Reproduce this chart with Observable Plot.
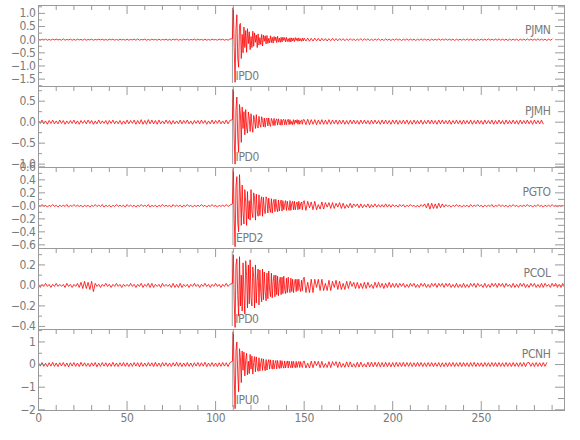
<!DOCTYPE html>
<html><head><meta charset="utf-8">
<script src="https://cdn.jsdelivr.net/npm/d3@7"></script>
<script src="https://cdn.jsdelivr.net/npm/@observablehq/plot@0.6"></script>
<style>
body{margin:0;background:#fff}
#chart svg{display:block;overflow:visible;background:transparent}
</style></head><body><div id="chart"></div>
<script>
const stations = ["PJMN","PJMH","PGTO","PCOL","PCNH"];
const phases = ["IPD0","IPD0","EPD2","IPD0","IPU0"];
const pickTimes = [109.5,109.6,109.8,109.4,109.7];
const noiseStep = 1, codaStart = 109.5, codaStep = 0.5, tailStart = 150;
const xDomain = [0,297];
const xTicks = [0,50,100,150,200,250];
const xMinorTicks = [10,20,30,40,60,70,80,90,110,120,130,140,160,170,180,190,210,220,230,240,260,270,280,290];
const yDomains = [[-1.78,1.3],[-1.08,0.85],[-0.656,0.59],[-0.43,0.36],[-2.03,1.55]];
const yMajorTicks = [[1,0.5,0,-0.5,-1,-1.5],[0.5,0,-0.5,-1],[0.6,0.4,0.2,0,-0.2,-0.4,-0.6],[0.2,0,-0.2,-0.4],[1,0,-1,-2]];
const yTickLabels = [["1.0","0.5","0.0","−0.5","−1.0","−1.5"],["0.5","0.0","−0.5","−1.0"],["0.6","0.4","0.2","−0.0","−0.2","−0.4","−0.6"],["0.2","0.0","−0.2","−0.4"],["1","0","−1","−2"]];
const yMinorTicks = [[1.25,0.75,0.25,-0.25,-0.75,-1.25,-1.75],[0.75,0.25,-0.25,-0.75],[0.5,0.3,0.1,-0.1,-0.3,-0.5],[0.3,0.1,-0.1,-0.3],[1.5,0.5,-0.5,-1.5]];

// PJMN
const prePJMN = [
.01,-.02,.02,-.01,.02,-.02,.01,-.02,.02,-.01,.02,-.01,.01,-.02,.03,-.02,.01,-.01,.02,-.02,
.01,-.02,.02,-.01,.01,-.02,.02,-.02,.01,-.01,.02,-.02,.01,-.01,.02,-.01,.02,-.02,.01,-.02,
.02,-.01,.02,-.02,.01,-.02,.02,-.01,.01,-.02,.02,-.02,.01,-.01,.02,-.02,.03,-.02,.01,-.01,
.02,-.02,.01,-.02,.02,-.01,.01,-.02,.02,-.02,.01,-.01,.02,-.02,.01,-.02,.02,-.01,.02,-.02,
.01,-.02,.02,-.01,.02,-.02,.01,-.01,.02,-.02,.02,-.01,.01,-.02,.02,-.02,.01,-.02,.02,-.01,
.01,-.02,.02,-.01,.02,-.02,.01,-.02,.02];
const codaPJMN = [
.04,1.22,-.3,-1.62,.4,.95,-.7,-1.05,.55,.62,-.72,.2,-.5,.48,-.3,.35,-.48,.42,-.15,.3,
-.38,.12,-.3,.32,-.25,.26,-.1,.18,-.3,.22,-.2,.08,-.18,.2,-.24,.17,-.06,.15,-.16,.16,
-.14,.05,-.12,.15,-.11,.09,-.13,.12,-.04,.1,-.11,.13,-.09,.06,-.1,.09,-.09,.1,-.03,.08,
-.08,.09,-.07,.04,-.08,.07,-.09,.07,-.05,.06,-.07,.08,-.03,.06,-.06,.07,-.05,.04,-.06,.06,-.05];
const tailPJMN = [
.06,-.05,.06,-.06,.05,-.05,.06,-.04,.05,-.05,.05,-.04,.04,-.05,.04,-.04,.05,-.04,.04,-.04,
.04,-.03,.04,-.04,.03,-.03,.04,-.03,.03,-.04,.03,-.03,.04,-.03,.03,-.02,.03,-.03,.02,-.03,
.03,-.02,.03,-.03,.02,-.03,.03,-.02,.02,-.03,.02,-.02,.03,-.02,.02,-.03,.02,-.02,.03,-.02,
.02,-.02,.02,-.03,.02,-.02,.03,-.02,.02,-.02,.02,-.03,.02,-.02,.02,-.02,.03,-.02,.02,-.02,
.03,-.02,.02,-.02,.02,-.03,.02,-.02,.02,-.02,.02,-.02,.03,-.02,.02,-.02,.02,-.03,.02,-.02,
.02,-.02,.02,-.02,.03,-.02,.02,-.02,.02,-.02,.03,-.02,.02,-.02,.02,-.03,.02,-.02,.02,-.02,
.02,-.03,.02,-.02,.02,-.02,.03,-.02,.02,-.02,.02,-.02,.03,-.02,.02,-.02,.02,-.03,.02,-.02,.02];

// PJMH
const prePJMH = [
.04,-.03,.05,-.04,.03,-.05,.04,-.03,.05,-.04,.03,-.04,.05,-.03,.04,-.05,.03,-.04,.04,-.03,
.05,-.04,.03,-.05,.04,-.03,.04,-.04,.05,-.03,.04,-.05,.03,-.04,.05,-.04,.03,-.03,.04,-.05,
.04,-.03,.05,-.04,.03,-.04,.04,-.05,.03,-.04,.05,-.04,.04,-.03,.05,-.05,.04,-.04,.06,-.05,
.04,-.05,.06,-.04,.05,-.04,.04,-.05,.05,-.04,.03,-.04,.05,-.03,.04,-.05,.04,-.04,.03,-.04,
.05,-.04,.04,-.03,.05,-.04,.03,-.05,.04,-.03,.04,-.04,.05,-.03,.04,-.05,.03,-.04,.05,-.04,
.04,-.03,.05,-.04,.03,-.04,.05,-.04,.04];
const codaPJMH = [
.06,.78,-.4,-1.0,.3,.6,-.35,-.72,.42,.2,-.48,.36,-.15,.25,-.3,.3,-.12,-.26,.24,.1,
-.22,.2,-.08,-.24,.16,.06,-.15,.18,-.1,-.14,.14,-.05,-.12,.13,.04,-.11,.1,-.12,.06,.1,
-.09,.1,-.05,-.1,.09,.03,-.08,.09,-.08,.04,.08,-.07,.08,-.03,-.07,.07,-.07,.05,.07,-.06,
.06,-.06,.03,.07,-.06,.06,-.05,.02,-.06,.06,-.05,.05,-.02,.06,-.05,.05,-.05,.03,.05,-.05,.06];
const tailPJMH = [
.06,-.06,.07,-.06,.06,-.05,.06,-.06,.05,-.05,.06,-.05,.05,-.05,.06,-.05,.05,-.04,.05,-.05,
.05,-.04,.05,-.05,.04,-.05,.05,-.04,.05,-.04,.04,-.05,.05,-.04,.05,-.04,.04,-.05,.05,-.04,
.05,-.04,.04,-.05,.05,-.04,.05,-.04,.04,-.05,.05,-.04,.05,-.05,.04,-.04,.05,-.04,.05,-.05,
.04,-.05,.05,-.04,.04,-.04,.05,-.05,.04,-.04,.05,-.04,.05,-.04,.04,-.05,.05,-.04,.05,-.04,
.04,-.04,.05,-.05,.04,-.04,.05,-.04,.04,-.05,.05,-.04,.04,-.04,.05,-.05,.04,-.04,.05,-.04,
.04,-.05,.05,-.04,.04,-.04,.05,-.05,.04,-.04,.05,-.04,.04,-.05,.05,-.04,.04,-.04,.05,-.04,
.04,-.05,.05,-.04,.04,-.04,.05,-.04,.04,-.05,.05,-.04,.04,-.04,.05,-.04];

// PGTO
const prePGTO = [
.01,-.01,.02,-.01,.01,-.02,.01,-.01,.02,-.01,.01,-.02,.01,-.01,.01,-.01,.02,-.02,.01,-.01,
.02,-.01,.01,-.01,.01,-.02,.01,-.01,.01,-.02,.01,-.01,.02,-.01,.01,-.01,.02,-.02,.01,-.01,
.01,-.02,.01,-.01,.02,-.01,.01,-.01,.01,-.02,.02,-.01,.01,-.01,.01,-.02,.01,-.01,.02,-.01,
.01,-.01,.02,-.02,.01,-.01,.01,-.02,.01,-.01,.02,-.01,.01,-.01,.01,-.02,.02,-.01,.01,-.01,
.01,-.02,.01,-.01,.02,-.01,.01,-.02,.01,-.01,.01,-.01,.02,-.01,.01,-.02,.01,-.01,.02,-.01,
.01,-.02,.01,-.01,.01,-.01,.02,-.01,.01];
const codaPGTO = [
.03,.58,-.2,-.63,.3,.45,-.25,-.4,.48,.15,-.3,.32,-.1,-.28,.25,.05,-.3,.22,-.2,.08,
-.22,.25,-.1,-.18,.2,.12,-.22,.18,-.08,-.16,.17,-.15,.06,.14,-.16,.13,-.05,-.12,.14,.1,
-.11,.12,-.04,-.1,.11,-.11,.05,.1,-.09,.1,-.03,-.09,.09,-.08,.04,.09,-.08,.08,-.06,.03,
.08,-.07,.07,-.03,-.07,.08,-.07,.04,.07,-.06,.07,-.06,.02,.06,-.06,.07,-.05,.03,.06,-.06,.06];
const tailPGTO = [
.08,-.07,.07,-.03,.06,-.06,.07,-.06,.02,-.05,.06,-.05,.05,-.02,.05,-.04,.05,-.04,.04,-.02,
.05,-.04,.04,-.04,.02,-.03,.04,-.03,.03,-.01,.03,-.03,.03,-.03,.02,-.02,.03,-.03,.02,-.02,
.03,-.02,.02,-.02,.02,-.02,.03,-.02,.02,-.02,.02,-.01,.01,-.02,.02,-.01,.02,-.02,.01,-.01,
.02,-.01,.01,-.02,.01,-.02,.02,-.01,.03,-.03,.04,-.05,.04,-.04,.03,-.04,.04,-.03,.03,-.02,
.02,-.01,.01,-.02,.01,-.01,.02,-.01,.01,-.02,.01,-.01,.01,-.02,.02,-.01,.01,-.01,.02,-.01,
.01,-.02,.01,-.01,.01,-.01,.02,-.02,.01,-.01,.02,-.01,.01,-.01,.01,-.02,.01,-.01,.02,-.01,
.01,-.02,.01,-.01,.01,-.01,.02,-.01,.01,-.02,.01,-.01,.02,-.01,.01,-.02,.01,-.01,.01,-.01,
.02,-.01,.01,-.02,.01,-.01,.01];

// PCOL
const prePCOL = [
.01,-.02,.01,-.01,.02,-.01,.01,-.02,.01,-.01,.02,-.01,.01,-.01,.01,-.02,.02,-.01,.01,-.02,
.01,-.01,.02,-.02,.03,-.03,.04,-.03,.03,-.04,.04,-.06,.02,-.01,.01,-.02,.01,-.01,.02,-.01,
.01,-.02,.01,-.01,.02,-.01,.01,-.02,.01,-.01,.01,-.01,.02,-.01,.01,-.02,.01,-.01,.02,-.02,
.01,-.01,.02,-.02,.02,-.02,.01,-.01,.01,-.02,.02,-.01,.01,-.01,.01,-.02,.02,-.02,.01,-.02,
.02,-.02,.01,-.01,.01,-.02,.01,-.01,.02,-.01,.01,-.02,.01,-.01,.02,-.01,.01,-.02,.01,-.01,
.02,-.01,.01,-.02,.01,-.01,.02,-.01,.01];
const codaPCOL = [
.02,.3,-.15,-.41,.2,.26,-.1,-.3,.28,-.2,.1,-.25,.22,-.08,-.28,.24,.1,-.22,.2,-.18,
.25,-.12,-.2,.18,.08,-.22,.2,-.17,.05,.16,-.19,.15,-.07,-.16,.16,-.14,.13,-.06,-.15,.12,
-.13,.14,-.05,-.11,.12,-.12,.04,.1,-.11,.1,-.09,.09,-.1,.03,.08,-.09,.08,-.08,.09,-.04,
-.08,.07,-.07,.08,-.03,-.07,.07,-.06,.06,-.07,.02,.06,-.06,.06,-.05,.06,-.02,-.06,.05,-.05,.06];
const tailPCOL = [
.08,-.07,.03,-.07,.06,-.07,.06,-.02,.06,-.05,.06,-.05,.02,-.05,.05,-.05,.04,-.02,.05,-.04,
.04,-.04,.02,-.04,.04,-.03,.04,-.01,.03,-.03,.03,-.03,.02,-.03,.03,-.03,.03,-.02,.01,-.03,
.03,-.02,.03,-.02,.02,-.03,.02,-.02,.03,-.02,.02,-.02,.02,-.02,.02,-.01,.02,-.02,.01,-.02,
.02,-.01,.02,-.02,.01,-.02,.02,-.01,.02,-.02,.01,-.02,.02,-.01,.02,-.02,.02,-.01,.02,-.02,
.02,-.01,.02,-.02,.01,-.02,.02,-.02,.01,-.02,.02,-.02,.01,-.02,.02,-.01,.02,-.02,.02,-.01,
.01,-.02,.02,-.02,.01,-.02,.02,-.01,.02,-.02,.02,-.01,.02,-.02,.02,-.01,.01,-.02,.02,-.02,
.01,-.02,.02,-.01,.02,-.02,.01,-.02,.02,-.01,.02,-.02,.01,-.02,.02,-.02,.02,-.01,.01,-.02,
.02,-.01,.02,-.02,.01,-.02,.02,-.02];

// PCNH
const prePCNH = [
.08,-.07,.09,-.08,.06,-.09,.08,-.07,.1,-.08,.07,-.09,.08,-.06,.09,-.08,.07,-.1,.08,-.07,
.09,-.08,.07,-.09,.1,-.07,.08,-.08,.06,-.09,.08,-.07,.09,-.1,.07,-.08,.09,-.07,.08,-.09,
.07,-.08,.1,-.08,.07,-.09,.08,-.07,.09,-.08,.08,-.09,.07,-.08,.09,-.07,.08,-.1,.09,-.08,
.07,-.08,.09,-.07,.08,-.09,.1,-.08,.07,-.09,.09,-.07,.08,-.08,.07,-.09,.08,-.07,.1,-.08,
.08,-.09,.07,-.08,.09,-.08,.07,-.09,.08,-.07,.09,-.08,.08,-.07,.1,-.09,.07,-.08,.09,-.08,
.07,-.09,.08,-.08,.09,-.07,.08,-.09,.08];
const codaPCNH = [
.15,1.45,-.5,-1.95,.6,1.0,-.4,-1.2,.7,.3,-.8,.6,-.25,.55,-.5,.2,.5,-.45,.15,-.4,
.45,-.2,.38,-.42,.1,.35,-.32,.34,-.12,-.3,.3,-.28,.08,.27,-.26,.25,-.1,-.27,.22,-.24,
.07,.22,-.2,.21,-.08,-.2,.2,-.19,.05,.18,-.19,.18,-.06,-.17,.18,-.16,.17,-.05,-.16,.16,
-.15,.06,.16,-.15,.15,-.05,-.14,.15,-.14,.14,-.04,-.14,.14,-.13,.05,.14,-.13,.13,-.04,-.13,.13];
const tailPCNH = [
.16,-.15,.06,-.15,.15,-.14,.15,-.05,.14,-.14,.14,-.13,.05,-.13,.13,-.13,.13,-.04,.13,-.13,
.12,-.12,.05,-.12,.12,-.11,.12,-.11,.04,-.12,.1,-.11,.11,-.1,.04,-.11,.1,-.1,.11,-.1,
.1,-.09,.1,-.1,.09,-.1,.1,-.09,.09,-.1,.09,-.1,.1,-.09,.09,-.09,.1,-.09,.09,-.08,
.09,-.09,.08,-.09,.1,-.08,.09,-.09,.08,-.09,.09,-.08,.09,-.09,.08,-.08,.09,-.1,.08,-.09,
.08,-.09,.09,-.08,.09,-.09,.08,-.08,.09,-.09,.09,-.08,.08,-.09,.09,-.08,.1,-.09,.08,-.08,
.08,-.09,.09,-.08,.08,-.09,.09,-.08,.09,-.09,.09,-.08,.08,-.09,.09,-.08,.08,-.09,.09,-.08,
.08,-.09,.09,-.08,.09,-.09,.08,.09,-.08,.08,-.09,.09,-.08,.08,-.09,.09,-.08,.08];

const traces = [
  [prePJMN, codaPJMN, tailPJMN],
  [prePJMH, codaPJMH, tailPJMH],
  [prePGTO, codaPGTO, tailPGTO],
  [prePCOL, codaPCOL, tailPCOL],
  [prePCNH, codaPCNH, tailPCNH]
];

const W = 580, ML = 38, MR = 16, PH = 81, FW = W - ML - MR;
const lineGrey = "#9a9a9a", textGrey = "#7a7a7a";
const font = "'Liberation Sans Narrow','DejaVu Sans Condensed','Arial Narrow',sans-serif";
const root = document.getElementById("chart");

stations.forEach((name, i) => {
  const mt = i === 0 ? 5 : 0, mb = i === 4 ? 30 : 0;
  const [pre, coda, tail] = traces[i];
  const data = [
    ...pre.map((v, k) => ({t: k * noiseStep, v})),
    ...coda.map((v, k) => ({t: codaStart + k * codaStep, v})),
    ...tail.map((v, k) => ({t: tailStart + k * noiseStep, v}))
  ];
  const yLabels = yMajorTicks[i].map((y, k) => ({y, s: yTickLabels[i][k]}));
  const marks = [
    Plot.ruleX([pickTimes[i]], {x: d => d, stroke: "#a0a0a0", strokeWidth: 1, insetTop: 3, insetBottom: 3}),
    Plot.line(data, {x: "t", y: "v", stroke: "#ff0000", strokeWidth: 0.8, clip: true}),
    Plot.frame({stroke: lineGrey}),
    Plot.ruleX(xTicks, {x: d => d, stroke: lineGrey, insetBottom: PH - 9}),
    Plot.ruleX(xMinorTicks, {x: d => d, stroke: lineGrey, insetBottom: PH - 5}),
    Plot.ruleY(yMajorTicks[i], {y: d => d, stroke: lineGrey, insetRight: FW - 7}),
    Plot.ruleY(yMinorTicks[i], {y: d => d, stroke: lineGrey, insetRight: FW - 4}),
    Plot.ruleY(yMajorTicks[i], {y: d => d, stroke: lineGrey, insetLeft: FW - 9}),
    Plot.ruleY(yMinorTicks[i], {y: d => d, stroke: lineGrey, insetLeft: FW - 6}),
    Plot.text(yLabels, {y: "y", text: "s", frameAnchor: "left", textAnchor: "end", dx: -3, fill: textGrey}),
    Plot.text([{s: name}], {text: "s", frameAnchor: "top-right", dx: -14, dy: 20, textAnchor: "end", fill: textGrey}),
    Plot.text([{x: pickTimes[i], s: phases[i]}], {x: "x", text: "s", frameAnchor: "top", dy: 66, dx: 3, textAnchor: "start", fill: textGrey})
  ];
  if (i === 4) {
    marks.push(
      Plot.ruleX(xTicks, {x: d => d, stroke: lineGrey, insetTop: PH - 9}),
      Plot.ruleX(xMinorTicks, {x: d => d, stroke: lineGrey, insetTop: PH - 5}),
      Plot.text(xTicks, {x: d => d, text: d => String(d), frameAnchor: "bottom", lineAnchor: "top", dy: 3, fill: textGrey})
    );
  }
  const svg = Plot.plot({
    width: W, height: PH + mt + mb,
    marginLeft: ML, marginRight: MR, marginTop: mt, marginBottom: mb,
    x: {domain: xDomain, axis: null},
    y: {domain: yDomains[i], axis: null},
    style: {fontFamily: font, fontSize: "12px", letterSpacing: "-0.4px", background: "transparent", overflow: "visible"},
    marks
  });
  root.appendChild(svg);
});
</script></body></html>
